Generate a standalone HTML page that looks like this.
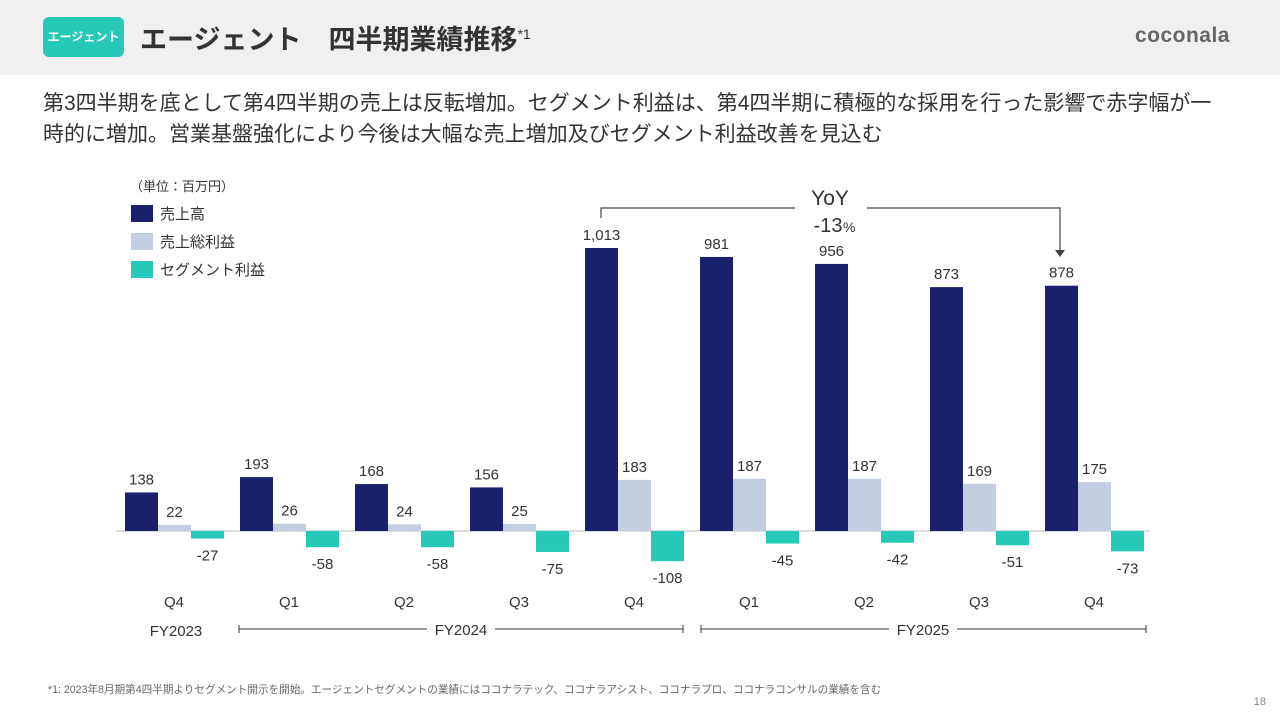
<!DOCTYPE html>
<html><head><meta charset="utf-8"><style>
body{margin:0;width:1280px;height:720px;overflow:hidden;background:#fff;font-family:"Liberation Sans","Noto Sans CJK JP",sans-serif;color:#333;position:relative}
.hdr{position:absolute;left:0;top:0;width:1280px;height:75px;background:#f0f0f0}
.badge{position:absolute;left:43px;top:17px;width:81px;height:40px;background:#26c8b8;border-radius:6px;color:#fff;font-size:12px;font-weight:bold;text-align:center;line-height:40px}
.title{position:absolute;left:140px;top:18px;font-size:27px;font-weight:bold;color:#333;white-space:nowrap}
.title sup{font-size:14px;font-weight:normal}
.logo{position:absolute;right:50px;top:24px;font-size:21px;font-weight:bold;color:#666;letter-spacing:0.5px}
.lead{position:absolute;left:43px;top:88px;font-size:21px;line-height:31px;color:#333;width:1192px}
.foot{position:absolute;left:48px;top:682px;font-size:10.6px;color:#666;white-space:nowrap}
.pg{position:absolute;right:14px;top:696px;font-size:11px;color:#888}
svg{position:absolute;left:0;top:0}
</style></head><body>
<div class="hdr"></div>
<div class="badge">エージェント</div>
<div class="title">エージェント　四半期業績推移<sup>*1</sup></div>
<div class="logo">coconala</div>
<div class="lead">第3四半期を底として第4四半期の売上は反転増加。セグメント利益は、第4四半期に積極的な採用を行った影響で赤字幅が一<br>時的に増加。営業基盤強化により今後は大幅な売上増加及びセグメント利益改善を見込む</div>
<div class="foot">*1: 2023年8月期第4四半期よりセグメント開示を開始。エージェントセグメントの業績にはココナラテック、ココナラアシスト、ココナラプロ、ココナラコンサルの業績を含む</div>
<div class="pg">18</div>
<svg id="chart" width="1280" height="720"></svg>
<script>
const quarters=["Q4","Q1","Q2","Q3","Q4","Q1","Q2","Q3","Q4"];
const sales=[138,193,168,156,1013,981,956,873,878];
const gross=[22,26,24,25,183,187,187,169,175];
const segment=[-27,-58,-58,-75,-108,-45,-42,-51,-73];
const salesLabels=["138","193","168","156","1,013","981","956","873","878"];
const svg=document.getElementById('chart');
const NS='http://www.w3.org/2000/svg';
const base=531,scale=283/1013,x0=174,step=115,bw=33;
function y(v){return base-v*scale;}
function xc(i){return x0+i*step;}
function mk(t,a,txt){const e=document.createElementNS(NS,t);for(const k in a)e.setAttribute(k,a[k]);if(txt!==undefined)e.textContent=txt;svg.appendChild(e);return e;}
const ax=mk('line',{x1:116,x2:1150,y1:base,y2:base,stroke:'#bbb','stroke-width':1});


const series=[[sales,'#1a206b',-49,salesLabels],[gross,'#c3cfe0',-16,null],[segment,'#26c8b8',17,null]];
series.forEach(([vals,col,off,labs],s)=>{
 vals.forEach((v,i)=>{
  const x=xc(i)+off,top=Math.min(y(v),base),h=Math.abs(y(v)-base);
  const r=mk('rect',{x:x,y:top,width:bw,height:h,fill:col});
  
  
  const ty=v>=0?top-8:base+h+22;
  const t=mk('text',{x:x+bw/2,y:ty,'text-anchor':'middle','font-size':15,fill:'#333'},labs?labs[i]:String(v));
  
  
 });
});
quarters.forEach((q,i)=>{const t=mk('text',{x:xc(i),y:607,'text-anchor':'middle','font-size':15,fill:'#333'},q);
 
 });
function fy(x1,x2,label,cx){
 mk('line',{x1:x1,x2:x2,y1:629,y2:629,stroke:'#333','stroke-width':1});
 mk('line',{x1:x1,x2:x1,y1:625,y2:633,stroke:'#333'});mk('line',{x1:x2,x2:x2,y1:625,y2:633,stroke:'#333'});
 const w=label.length*9+14;mk('rect',{x:cx-w/2,y:620,width:w,height:18,fill:'#fff'});
 const t=mk('text',{x:cx,y:635,'text-anchor':'middle','font-size':15,fill:'#333'},label);
 
 
}
const fy23=mk('text',{x:176,y:636,'text-anchor':'middle','font-size':15,fill:'#333'},'FY2023');


fy(239,683,'FY2024',461);fy(701,1146,'FY2025',923);
mk('path',{d:'M601,218 V208 H795 M867,208 H1060 V252',fill:'none',stroke:'#444','stroke-width':1.2});
mk('path',{d:'M1055,250 L1065,250 L1060,257 Z',fill:'#444'});
const yoy=mk('text',{x:830,y:205,'text-anchor':'middle','font-size':21,fill:'#333'},'YoY');


const pct=mk('text',{x:828,y:232,'text-anchor':'middle','font-size':20,fill:'#333'},'-13');


mk('text',{x:843,y:232,'font-size':14,fill:'#333'},'%');
const unit=mk('text',{x:130,y:191,'font-size':13,fill:'#333'},'（単位：百万円）');


[['売上高','#1a206b'],['売上総利益','#c3cfe0'],['セグメント利益','#26c8b8']].forEach(([n,c],i)=>{
 const r=mk('rect',{x:131,y:205+i*28,width:22,height:17,fill:c});
 
 
 const t=mk('text',{x:160,y:219+i*28,'font-size':15,fill:'#333'},n);
 
 
});
</script>
</body></html>
